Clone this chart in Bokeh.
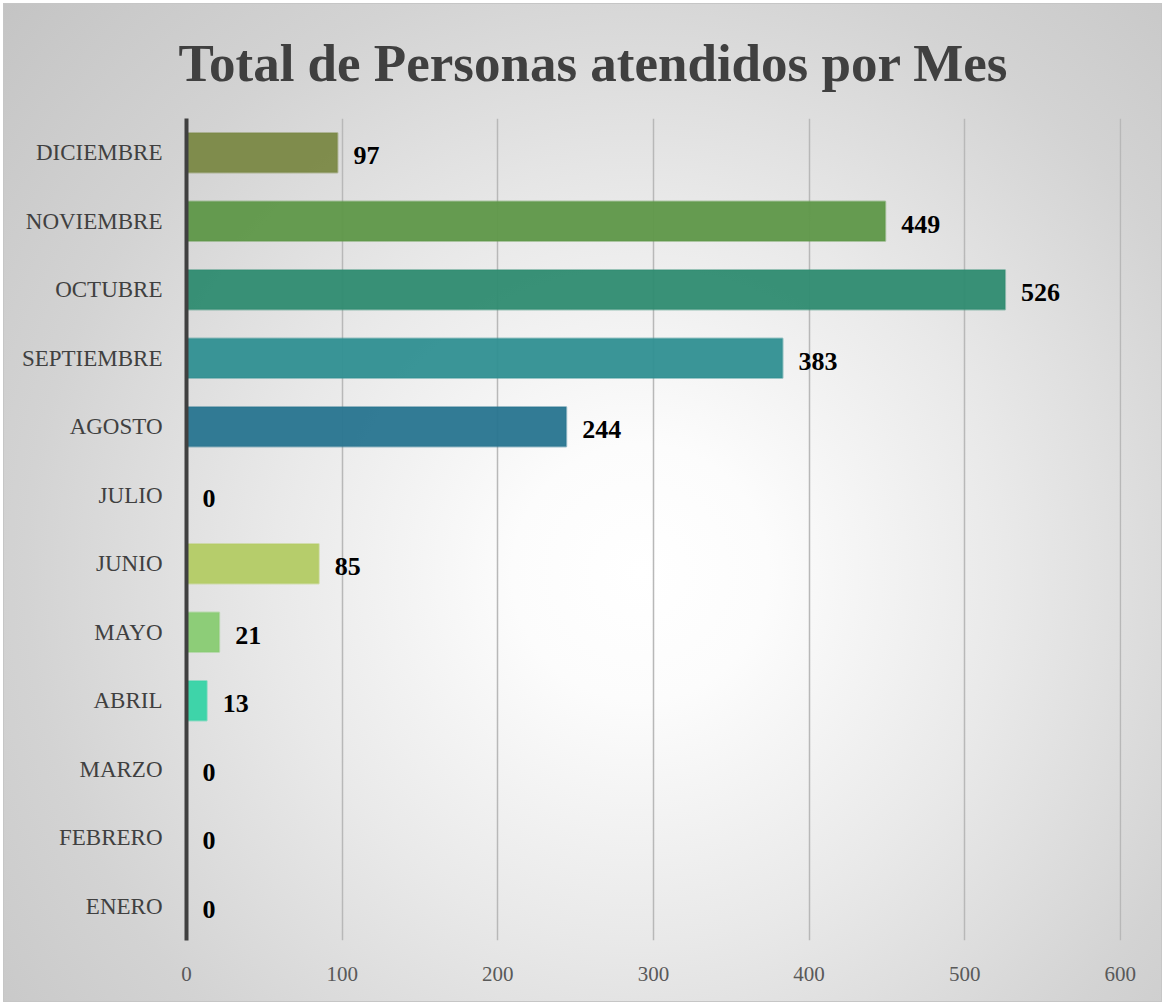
from bokeh.plotting import figure
from bokeh.models import FactorRange, Range1d, FixedTicker, ColumnDataSource
from bokeh.core.properties import value
from bokeh.embed import file_html
from bokeh.resources import INLINE

# ---- data ----
months = ["DICIEMBRE", "NOVIEMBRE", "OCTUBRE", "SEPTIEMBRE", "AGOSTO", "JULIO",
          "JUNIO", "MAYO", "ABRIL", "MARZO", "FEBRERO", "ENERO"]
counts = [97, 449, 526, 383, 244, 0, 85, 21, 13, 0, 0, 0]
bar_colors = ["#7a8845", "#5e9748", "#2e8b70", "#2f8f91", "#27748f", "#6aa84f",
              "#b3cb64", "#88cb72", "#35d3a5", "#7a8845", "#5e9748", "#2e8b70"]
x_ticks = [0, 100, 200, 300, 400, 500, 600]
title_text = "Total de Personas atendidos por Mes"

src = ColumnDataSource(dict(month=months, count=counts, color=bar_colors,
                            label=[str(v) for v in counts]))

p = figure(width=1157, height=997, output_backend="svg", toolbar_location=None,
           y_range=FactorRange(*list(reversed(months))), x_range=Range1d(0, 600.8),
           min_border_left=182, min_border_right=40, min_border_top=113,
           min_border_bottom=61, title=title_text)

p.styles = {"position": "relative", "left": "4px", "top": "4px",
            "background": "radial-gradient(circle farthest-corner at 55% 57%, #ffffff 0%, #fcfcfc 15%, #e9e9e9 43%, #d3d3d3 72%, #c4c4c4 100%)",
            "outline": "1px solid #c6c6c6"}
p.border_fill_color = None
p.background_fill_color = None
p.outline_line_color = None

p.title.text_font = "Liberation Serif"
p.title.text_font_style = "bold"
p.title.text_font_size = "53px"
p.title.text_color = "#404040"
p.title.align = "left"
p.title.offset = -8
p.title.standoff = 54

p.hbar(y="month", right="count", left=0, height=0.58, source=src,
       fill_color="color", fill_alpha=0.95, line_color="color", line_alpha=0.45,
       line_width=2)

p.text(x="count", y="month", text="label", source=src, x_offset=16, y_offset=3,
       text_baseline="middle", text_align="left",
       text_font=value("Liberation Serif"), text_font_style="bold",
       text_font_size="26px", text_color="#000000")

# x axis
p.xaxis.ticker = FixedTicker(ticks=x_ticks)
p.xaxis.axis_line_color = None
p.xaxis.major_tick_line_color = None
p.xaxis.minor_tick_line_color = None
p.xaxis.major_label_standoff = 20
p.xaxis.major_label_text_font = "Liberation Serif"
p.xaxis.major_label_text_font_size = "21px"
p.xaxis.major_label_text_color = "#595959"

# y axis
p.yaxis.axis_line_color = "#404040"
p.yaxis.axis_line_width = 4
p.yaxis.major_tick_line_color = None
p.yaxis.minor_tick_line_color = None
p.yaxis.major_label_standoff = 18
p.yaxis.major_label_text_font = "Liberation Serif"
p.yaxis.major_label_text_font_size = "23px"
p.yaxis.major_label_text_color = "#404040"

p.xgrid.grid_line_color = "#b8b8b8"
p.xgrid.grid_line_width = 1.5
p.ygrid.grid_line_color = None

open("out.html", "w").write(file_html(p, INLINE))
